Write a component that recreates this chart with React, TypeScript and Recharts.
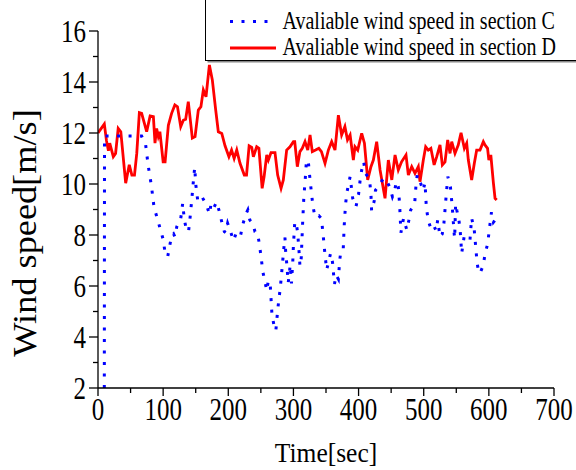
import React from "react";
import { LineChart, Line, XAxis, YAxis, Legend, Label } from "recharts";

const serif = "'Liberation Serif', 'Times New Roman', serif";

// section D (red solid line): time [sec] and wind speed [m/s]
const timeD = [
  0, 9.7, 13, 16, 18, 23.5, 27, 31, 35, 42.5,
  48, 52, 56, 59.5, 63.5, 67, 74.7, 80, 85, 87.5,
  90, 92.6, 95, 100, 103, 108, 113, 118, 122, 127,
  131, 134.6, 138.6, 144.8, 149, 154, 158, 161.7, 165.8, 171,
  175.5, 180.7, 184.7, 190, 195, 201, 205, 209, 213, 218,
  224.6, 228, 232, 236, 238.5, 243.6, 247, 252, 255, 259,
  261.5, 265.6, 271.7, 275.8, 281, 284.5, 289.6, 294.7, 300, 302,
  306, 310, 313.6, 317.8, 322, 325.5, 329, 334, 339, 343,
  348.5, 353.6, 358.7, 363.8, 369, 374, 379, 383, 387, 392,
  394.5, 398.7, 404.8, 409, 414, 419, 422.7, 427.8, 433, 440.6,
  445.7, 451, 456, 461, 466, 472.8, 476.4, 481.6, 486.6, 491.7,
  494.3, 499.4, 503, 507, 511, 516, 520, 525, 528.6, 532.7,
  536.8, 540.4, 543, 548, 553, 557.3, 562.4, 566, 568.5, 573.6,
  577.7, 581.3, 586.4, 591.5, 594, 598, 600, 603, 607, 609.5,
  612,
];
const speedD = [
  12.0, 12.35, 11.7, 11.3, 11.6, 11.07, 11.2, 12.18, 12.05, 10.03,
  10.75, 10.35, 10.35, 11.2, 12.8, 12.77, 12.05, 12.67, 12.64, 11.6,
  12.18, 11.86, 12.05, 10.87, 10.87, 12.3, 12.77, 13.1, 13.03, 12.25,
  12.5, 12.54, 13.23, 11.8, 11.86, 12.9, 13.03, 13.69, 13.42, 14.67,
  14.08, 12.9, 12.05, 11.98, 11.5, 11.07, 11.33, 11.0, 11.33, 10.81,
  10.35, 10.35, 11.5, 11.44, 11.07, 11.46, 11.4, 9.83, 10.29, 11.14,
  10.94, 11.23, 11.23, 10.35, 9.83, 10.16, 11.33, 11.46, 11.66, 11.66,
  10.68, 11.27, 11.4, 11.66, 11.33, 11.92, 11.27, 11.33, 11.4, 11.27,
  10.81, 11.33, 11.66, 11.33, 12.7, 11.92, 12.25, 11.73, 11.92, 10.94,
  11.46, 11.33, 11.99, 11.6, 10.16, 10.68, 10.94, 11.66, 10.55, 9.44,
  10.94, 10.16, 11.14, 10.55, 10.87, 11.14, 10.35, 10.68, 10.42, 10.68,
  10.09, 10.94, 11.46, 11.33, 11.4, 10.75, 11.07, 11.53, 10.75, 10.87,
  11.73, 11.2, 11.66, 11.2, 11.53, 12.01, 11.4, 11.6, 10.94, 10.16,
  10.81, 11.33, 11.33, 11.66, 11.53, 11.4, 10.94, 11.14, 10.03, 9.44,
  9.37,
];

// section C (blue dotted line)
const timeC = [
  9.7, 10, 67, 73, 77, 82, 86, 92, 100, 103,
  107, 110, 113, 116, 118, 121, 127, 130, 132.5, 136,
  139, 141, 144, 147, 148.5, 150, 153, 158, 160, 167,
  171, 173.5, 177, 182, 186, 190, 194, 196, 199, 203,
  208, 213, 219, 222, 227, 230, 233, 238, 241, 245,
  248, 251, 253, 256, 259, 261.5, 264.5, 267, 271, 273,
  276, 280, 283, 286, 287, 288, 290, 292, 294, 295,
  297, 299, 300, 302, 304, 306.5, 309, 310, 312, 314,
  316, 318, 320, 323, 325, 328, 330, 333, 339, 343,
  346, 348, 351, 354, 357, 360, 363, 365.5, 369, 371,
  373, 376.5, 378, 380, 382, 385, 387, 391, 396, 400,
  403, 406, 408, 410, 414, 417, 419, 420, 424, 426,
  431, 438, 442, 448, 452, 455, 458, 461, 463, 465,
  469, 474, 477, 480, 486, 488, 490, 495, 499, 502,
  504, 507, 511, 515, 519, 521.5, 525, 528.5, 531, 534,
  537, 541, 544, 546.5, 547.5, 549, 551, 554, 556, 558.3,
  562, 566, 571, 573.5, 577.5, 580, 582, 584, 586.5, 591.5,
  594, 598, 600, 602, 604, 607, 610,
];
const speedC = [
  2.0, 11.88, 11.88, 11.57, 10.73, 9.93, 9.09, 8.56, 7.83, 7.3,
  7.15, 7.57, 7.96, 8.04, 7.93, 8.33, 8.64, 9.24, 8.61, 8.17,
  8.14, 8.59, 9.4, 10.29, 10.65, 10.0, 9.37, 9.53, 9.48, 9.15,
  8.82, 9.2, 9.03, 9.29, 8.95, 8.51, 8.13, 8.09, 8.46, 8.17,
  7.78, 8.13, 8.0, 8.39, 8.82, 8.98, 8.59, 8.43, 8.13, 8.07,
  7.6, 7.0, 6.56, 6.21, 5.82, 6.21, 6.0, 4.9, 4.34, 4.25,
  5.1, 5.97, 6.82, 7.7, 7.9, 7.38, 6.8, 6.13, 6.56, 6.82,
  6.1, 6.95, 7.6, 8.48, 8.52, 8.09, 7.22, 6.78, 7.1, 8.4,
  9.5, 10.13, 10.94, 10.84, 10.3, 9.57, 9.14, 8.72, 8.76, 8.65,
  7.9, 7.35, 6.63, 6.95, 7.28, 6.93, 6.08, 6.43, 6.27, 7.0,
  7.41, 7.48, 8.39, 9.2, 9.66, 10.03, 10.29, 9.44, 9.11, 9.6,
  10.29, 10.71, 10.87, 10.44, 10.29, 10.13, 9.6, 8.95, 9.33, 9.76,
  9.92, 10.22, 10.18, 9.87, 9.5, 9.7, 10.09, 9.89, 9.2, 8.09,
  8.65, 8.2, 8.56, 8.98, 9.2, 9.9, 10.35, 10.05, 9.74, 10.05,
  9.1, 8.55, 8.26, 8.39, 8.17, 8.59, 7.93, 8.04, 8.46, 9.4,
  10.29, 9.89, 9.05, 8.13, 7.87, 9.22, 8.95, 8.59, 8.17, 7.28,
  7.93, 7.8, 7.8, 8.67, 8.22, 7.48, 6.9, 6.6, 6.5, 6.82,
  7.24, 7.64, 8.05, 8.48, 8.89, 8.5, 8.6,
];

const xTicks = [0, 50, 100, 150, 200, 250, 300, 350, 400, 450, 500, 550, 600, 650, 700];
const yTicks = [2, 3, 4, 5, 6, 7, 8, 9, 10, 11, 12, 13, 14, 15, 16];

const dataC = timeC.map((t, i) => ({ t, v: speedC[i] }));
const dataD = timeD.map((t, i) => ({ t, v: speedD[i] }));

const XTick = (props: any) => {
  const { x, y, payload } = props;
  const major = payload.value % 100 === 0;
  return (
    <g>
      <line x1={x} x2={x} y1={y} y2={y + (major ? 8 : 5)} stroke="#000" strokeWidth={1.3} />
      {major && (
        <text
          transform={`translate(${x},${y + 32}) scale(1,1.29)`}
          textAnchor="middle"
          fontFamily={serif}
          fontSize={25}
          fill="#000"
        >
          {payload.value}
        </text>
      )}
    </g>
  );
};

const YTick = (props: any) => {
  const { x, y, payload } = props;
  const major = payload.value % 2 === 0;
  return (
    <g>
      <line x1={x - (major ? 9 : 5)} x2={x} y1={y} y2={y} stroke="#000" strokeWidth={1.3} />
      {major && (
        <text
          transform={`translate(${x - 12},${y + 11}) scale(1,1.29)`}
          textAnchor="end"
          fontFamily={serif}
          fontSize={25}
          fill="#000"
        >
          {payload.value}
        </text>
      )}
    </g>
  );
};

const LegendBox = () => (
  <svg width={373} height={68} style={{ display: "block" }}>
    <rect x={2.5} y={2.5} width={372} height={62} fill="#888" />
    <rect x={0.5} y={0.5} width={372} height={62} fill="#fff" stroke="#000" strokeWidth={1} />
    <line x1={25} x2={71} y1={23.5} y2={23.5} stroke="#0000ff" strokeWidth={3} strokeDasharray="3 8.5" />
    <text transform="translate(77.5,30.5) scale(1,1.27)" fontFamily={serif} fontSize={20} fill="#000">
      Avaliable wind speed in section C
    </text>
    <line x1={25} x2={71} y1={50} y2={50} stroke="#ff0000" strokeWidth={2.8} />
    <text transform="translate(77.5,57) scale(1,1.27)" fontFamily={serif} fontSize={20} fill="#000">
      Avaliable wind speed in section D
    </text>
  </svg>
);

export default function App() {
  return (
    <div style={{ position: "absolute", left: 0, top: 0 }}>
      <LineChart width={576} height={470} margin={{ top: 31, right: 22, bottom: 0, left: 0 }}>
        <XAxis
          dataKey="t"
          type="number"
          domain={[0, 700]}
          ticks={xTicks}
          interval={0}
          height={82}
          tickSize={0}
          tickMargin={0}
          tick={<XTick />}
          axisLine={{ stroke: "#000", strokeWidth: 1.3 }}
          allowDataOverflow
        >
          <Label
            content={() => (
              <text
                transform="translate(326,462) scale(1,1.1)"
                textAnchor="middle"
                fontFamily={serif}
                fontSize={25.5}
                fill="#000"
              >
                Time[sec]
              </text>
            )}
          />
        </XAxis>
        <YAxis
          type="number"
          domain={[2, 16]}
          ticks={yTicks}
          interval={0}
          width={98}
          tickSize={0}
          tickMargin={0}
          tick={<YTick />}
          axisLine={{ stroke: "#000", strokeWidth: 1.3 }}
          allowDataOverflow
        >
          <Label
            content={() => (
              <text
                transform="translate(36,233) rotate(-90) scale(1.1,1)"
                textAnchor="middle"
                fontFamily={serif}
                fontSize={33}
                fill="#000"
              >
                Wind speed[m/s]
              </text>
            )}
          />
        </YAxis>
        <Legend
          layout="vertical"
          align="center"
          verticalAlign="middle"
          content={() => <LegendBox />}
          wrapperStyle={{ position: "absolute", left: 205, top: -2, width: 373, height: 68 }}
        />
        <Line
          data={dataD}
          dataKey="v"
          type="linear"
          stroke="#ff0000"
          strokeWidth={2.8}
          dot={false}
          activeDot={false}
          isAnimationActive={false}
        />
        <Line
          data={dataC}
          dataKey="v"
          type="linear"
          stroke="#0000ff"
          strokeWidth={3}
          strokeDasharray="3 8.5"
          dot={false}
          activeDot={false}
          isAnimationActive={false}
        />
      </LineChart>
    </div>
  );
}
